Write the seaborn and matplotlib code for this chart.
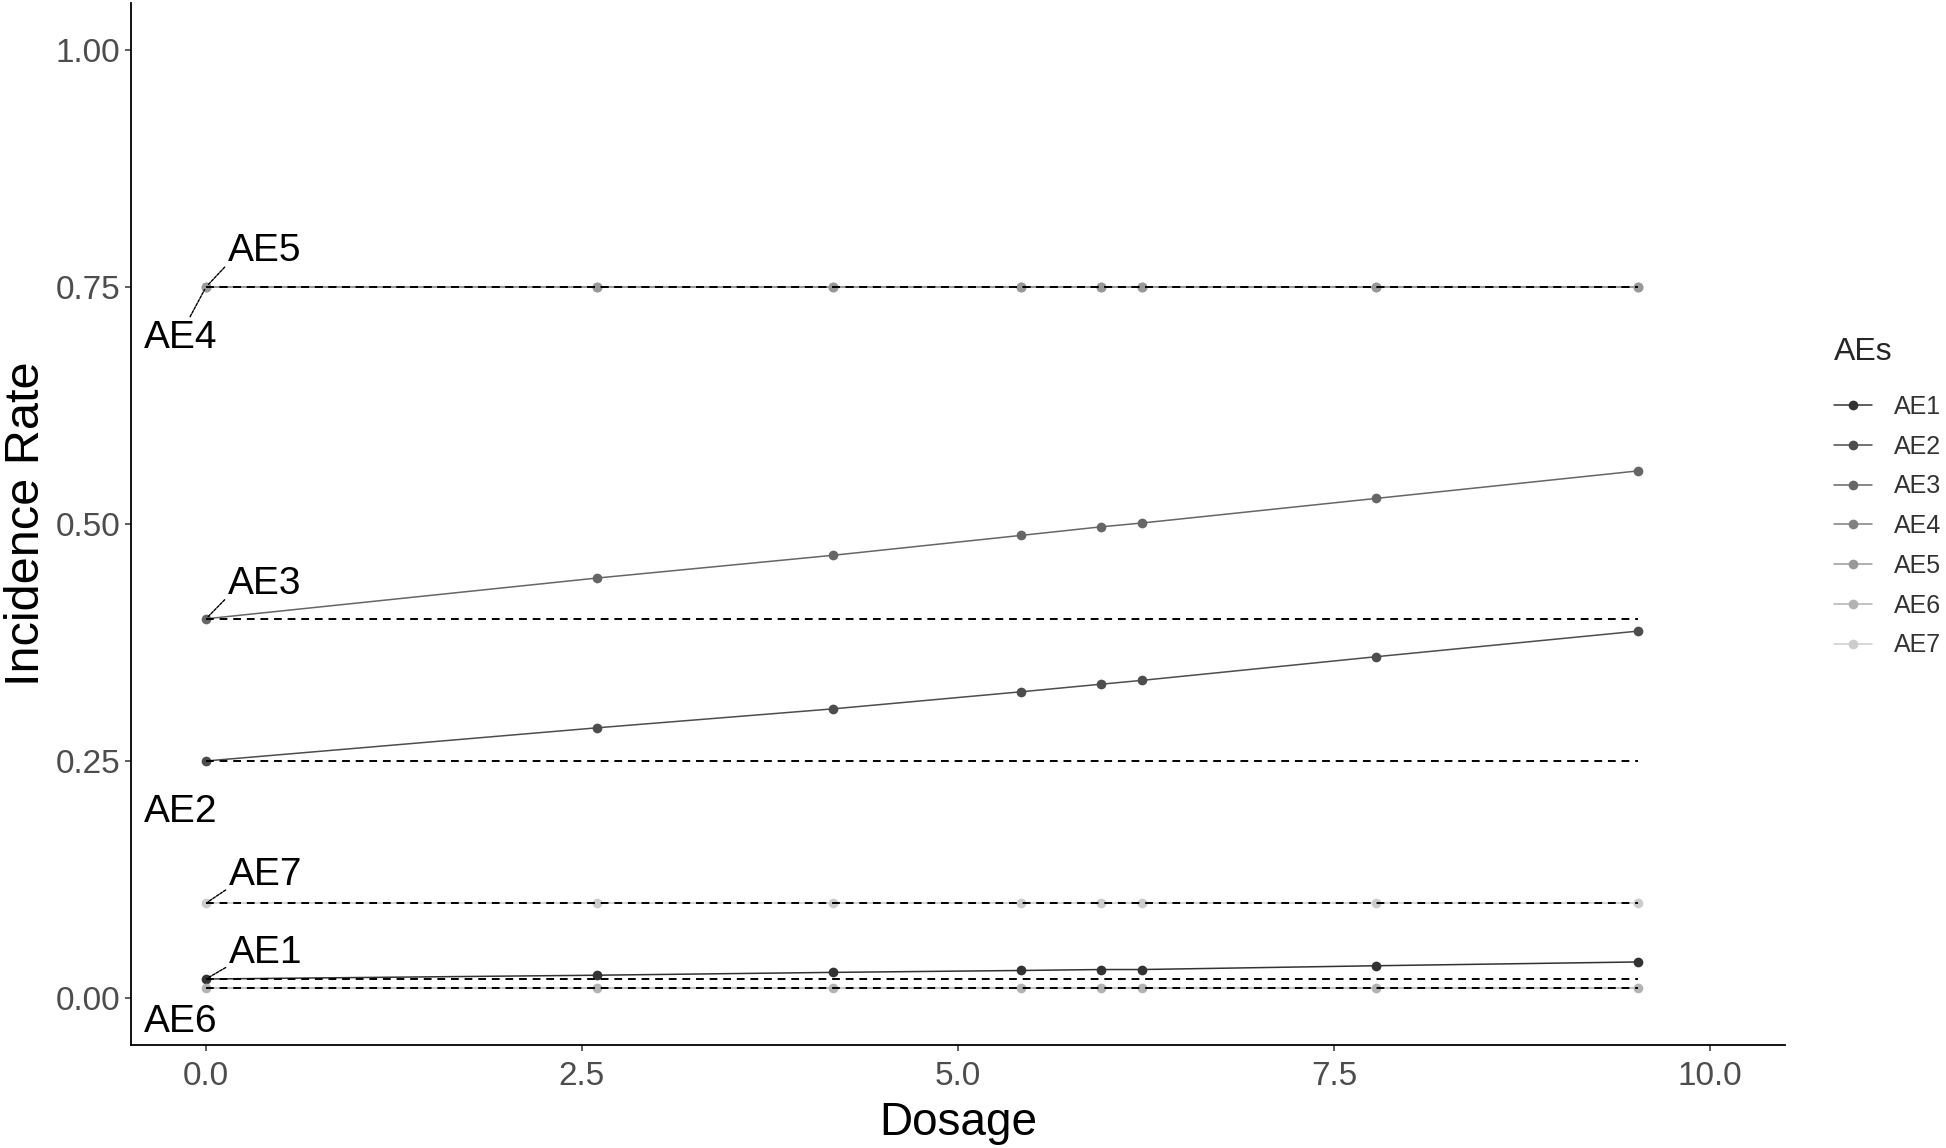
import pandas as pd
import seaborn as sns
from matplotlib import pyplot as plt

# values
dosage = [0.0, 2.6, 4.17, 5.42, 5.95, 6.22, 7.78, 9.52]
ae1 = [0.020, 0.024, 0.027, 0.029, 0.030, 0.030, 0.034, 0.038]
ae2 = [0.250, 0.285, 0.305, 0.323, 0.331, 0.335, 0.360, 0.387]
ae3 = [0.400, 0.443, 0.467, 0.488, 0.497, 0.501, 0.527, 0.556]
ae4 = [0.75, 0.75, 0.75, 0.75, 0.75, 0.75, 0.75, 0.75]
ae5 = [0.75, 0.75, 0.75, 0.75, 0.75, 0.75, 0.75, 0.75]
ae6 = [0.01, 0.01, 0.01, 0.01, 0.01, 0.01, 0.01, 0.01]
ae7 = [0.10, 0.10, 0.10, 0.10, 0.10, 0.10, 0.10, 0.10]
ae_names = ['AE1', 'AE2', 'AE3', 'AE4', 'AE5', 'AE6', 'AE7']
grey_palette = ['#333333', '#4d4d4d', '#666666', '#808080', '#999999', '#b3b3b3', '#cccccc']

series = [ae1, ae2, ae3, ae4, ae5, ae6, ae7]
data = pd.DataFrame({
    'Dosage': dosage * len(ae_names),
    'Incidence Rate': [v for s in series for v in s],
    'AEs': [n for n in ae_names for _ in dosage],
})

sns.set_style('ticks')
plt.rcParams['font.family'] = ['Liberation Sans', 'DejaVu Sans']

fig = plt.figure(figsize=(19.46, 11.48), dpi=100)
ax = fig.add_axes([0.0672, 0.0894, 0.9174 - 0.0672, 0.9977 - 0.0894])

sns.lineplot(data=data, x='Dosage', y='Incidence Rate', hue='AEs', palette=grey_palette,
             marker='o', markersize=7, markeredgewidth=0, linewidth=1.1, ax=ax)

# dashed reference at each starting rate
starts = [s[0] for s in series]
ax.hlines(starts, 0, max(dosage), colors='black', linestyles=(0, (4, 3)), linewidth=1.4, zorder=3)

# repel-style labels: (dx, dy) pixel offsets of the text, alignment, leader
label_layout = {
    'AE1': (23, 26, 'left', True),
    'AE2': (-25, -51, 'center', False),
    'AE3': (22, 35, 'left', True),
    'AE4': (-25, -51, 'center', True),
    'AE5': (22, 36, 'left', True),
    'AE6': (-25, -34, 'center', False),
    'AE7': (23, 28, 'left', True),
}
for name, s in zip(ae_names, series):
    dx, dy, ha, leader = label_layout[name]
    arrow = None
    if leader:
        relpos = (0, 0.15) if ha == 'left' else (0.6, 1)
        arrow = dict(arrowstyle='-', color='black', lw=1.0, linestyle=(0, (2, 1)),
                     shrinkA=0, shrinkB=2, relpos=relpos)
    ax.annotate(name, xy=(dosage[0], s[0]), xytext=(dx, dy), textcoords='offset pixels',
                ha=ha, va='center', fontsize=28, color='black', arrowprops=arrow, zorder=5)

ax.set_xlim(-0.5, 10.5)
ax.set_ylim(-0.05, 1.05)
ax.set_xticks([0, 2.5, 5, 7.5, 10])
ax.set_xticklabels(['0.0', '2.5', '5.0', '7.5', '10.0'])
ax.set_yticks([0, 0.25, 0.5, 0.75, 1.0])
ax.set_yticklabels(['0.00', '0.25', '0.50', '0.75', '1.00'])
ax.tick_params(labelsize=24, labelcolor='#4d4d4d', color='#333333', length=4, width=1.1)
ax.tick_params(axis='x', pad=7)
ax.set_xlabel('Dosage', fontsize=33, color='black', labelpad=7)
ax.set_ylabel('Incidence Rate', fontsize=35, color='black', labelpad=5)
for side in ['left', 'bottom']:
    ax.spines[side].set_linewidth(1.3)
    ax.spines[side].set_color('black')
sns.despine(ax=ax)

sns.move_legend(ax, 'upper left', bbox_to_anchor=(0.931, 0.726), bbox_transform=fig.transFigure,
                frameon=False, title='AEs', fontsize=18, title_fontsize=23,
                handlelength=1.5, handletextpad=0.9, labelspacing=0.63, alignment='left')
leg = ax.get_legend()
leg._legend_box.sep = 20
for t in leg.get_texts():
    t.set_color('#333333')

plt.savefig('out.png', dpi=100)
